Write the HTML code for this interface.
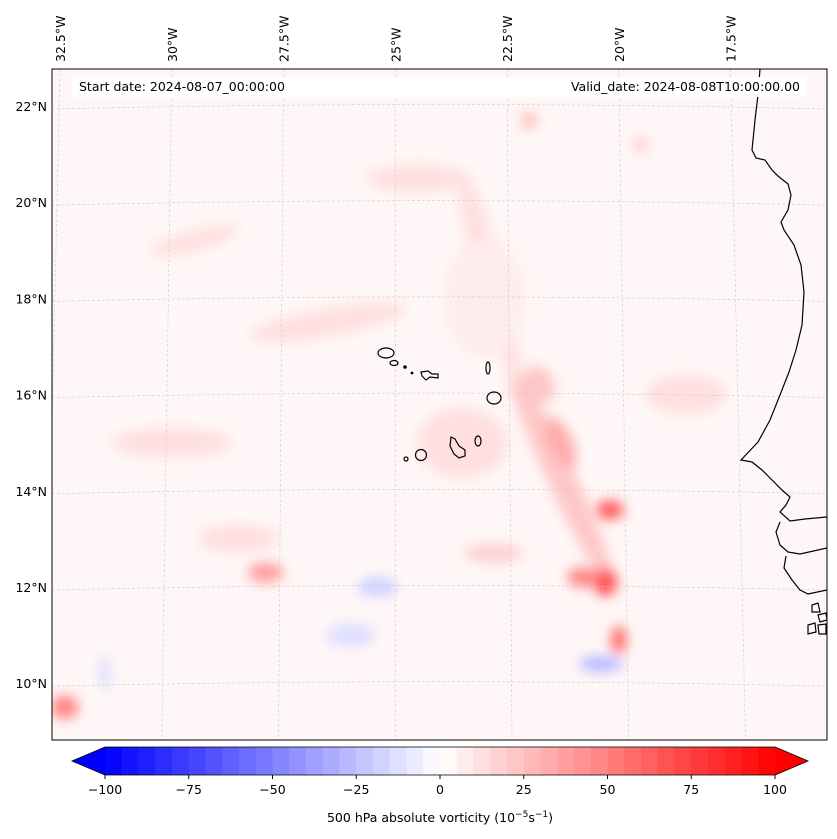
<!DOCTYPE html>
<html><head><meta charset="utf-8">
<style>
body{margin:0;background:#fff;width:837px;height:839px;overflow:hidden;font-family:"DejaVu Sans","Liberation Sans",sans-serif}
svg{position:absolute;left:0;top:0}
</style></head>
<body>
<svg id="fig" width="837" height="839" font-family="DejaVu Sans, Liberation Sans, sans-serif">
<defs>
<clipPath id="mapclip"><rect x="52" y="69" width="775" height="671"/></clipPath>
<filter id="blur" x="-50%" y="-50%" width="200%" height="200%"><feGaussianBlur stdDeviation="6"/></filter>
</defs>
<g id="map" clip-path="url(#mapclip)">
<rect x="52" y="69" width="775" height="671" fill="rgb(255,247,247)"/>
<g id="blobs" filter="url(#blur)"></g>
<g id="grid"></g>
<g id="coast" fill="none" stroke="#000" stroke-width="1.2">
<path d="M760,69 L758,95 L755,120 L752,150 L756,158 L765,160 L772,170 L778,176 L788,184 L791,195 L788,210 L781,222 L784,230 L794,245 L801,265 L804,292 L802,325 L796,350 L789,372 L780,395 L770,420 L758,442 L741,460 L752,462 L762,470 L772,480 L782,490 L790,497 L786,505 L780,512 L790,521 L805,519 L827,517"/>
<path d="M780,522 L776,532 L780,545 L788,552 L800,554 L827,548 M786,556 L784,568 L792,580 L800,590 L808,594 L827,590"/>
<path d="M812,605 L818,603 L820,612 L812,612 Z M818,615 L826,613 L827,620 L820,622 Z M808,625 L815,623 L816,632 L808,634 Z M818,625 L826,624 L826,634 L819,634 Z"/>
<ellipse cx="386" cy="353" rx="8" ry="5"/>
<ellipse cx="394" cy="363" rx="4" ry="2.5"/>
<circle cx="405" cy="367" r="1.2" fill="#000"/>
<circle cx="412" cy="373" r="0.8" fill="#000"/>
<path d="M421,372 L428,371 L432,374 L438,374 L438,378 L430,377 L426,380 L422,376 Z"/>
<ellipse cx="488" cy="368" rx="2" ry="6"/>
<ellipse cx="494" cy="398" rx="7" ry="6"/>
<path d="M451,437 L455,439 L459,446 L465,450 L465,456 L459,458 L454,454 L450,446 Z"/>
<ellipse cx="478" cy="441" rx="3" ry="5"/>
<circle cx="421" cy="455" r="5.5"/>
<circle cx="406" cy="459" r="2"/>
</g>
</g>
<rect x="52" y="69" width="775" height="671" fill="none" stroke="#000" stroke-width="1"/>
<rect x="72" y="77" width="735" height="20" fill="#fff"/>
<text x="79" y="91" font-size="12.5">Start date: 2024-08-07_00:00:00</text>
<text x="800" y="91" font-size="12.5" text-anchor="end">Valid_date: 2024-08-08T10:00:00.00</text>
<g id="lonlabels" font-size="12.5"></g>
<g id="latlabels" font-size="12.5"></g>
<g id="cbar"></g>
<text x="440" y="822" font-size="12.5" text-anchor="middle">500 hPa absolute vorticity (10<tspan baseline-shift="super" font-size="9">−5</tspan>s<tspan baseline-shift="super" font-size="9">−1</tspan>)</text>
</svg>
<script>
// ---- data ----
const lonTicks = [-32.5, -30, -27.5, -25, -22.5, -20, -17.5];
const lonTickLabels = ["32.5°W","30°W","27.5°W","25°W","22.5°W","20°W","17.5°W"];
const latTicks = [22, 20, 18, 16, 14, 12, 10];
const latTickLabels = ["22°N","20°N","18°N","16°N","14°N","12°N","10°N"];
const cbarTicks = [-100, -75, -50, -25, 0, 25, 50, 75, 100];
const cbarLevelStep = 5;
// vorticity features: lon, lat, value
const featLon = [-21.3, -22.9, -32.4, -27.9, -20.2, -20.3, -20.8, -20.0, -21.3, -21.8, -20.4, -25.4, -22.0, -19.5, -28.5, -23.5, -23.0, -26.0, -30.0, -24.5, -18.5, -31.5, -26.5, -22.8, -29.5];
const featLat = [14.3, 18.5, 9.5, 12.3, 13.6, 12.1, 12.2, 10.9, 15.0, 16.2, 10.4, 12.0, 21.7, 21.2, 13.0, 15.0, 18.0, 11.0, 15.0, 20.5, 16.0, 10.2, 17.5, 12.7, 19.2];
const featVal = [22, 10, 45, 35, 60, 68, 45, 55, 30, 22, -30, -20, 25, 20, 14, 12, 8, -12, 12, 10, 10, -15, 10, 15, 10];
// style (not data): radii and rotation for each feature
const featRx = [14, 14, 14, 18, 14, 12, 16, 8, 12, 16, 22, 20, 8, 7, 40, 45, 40, 25, 60, 50, 40, 6, 80, 30, 45];
const featRy = [120, 110, 12, 10, 10, 14, 10, 14, 28, 20, 8, 10, 8, 7, 14, 35, 60, 12, 15, 14, 20, 18, 14, 10, 10];
const featRot = [-25, -15, 0, 0, 0, 0, 0, 0, -25, -25, 0, 0, 0, 0, 0, 0, 0, 0, 0, 0, 0, 0, -10, 0, -15];

// ---- axes ----
const X = lon => 60 + (lon + 32.5) * 44.7;
const Y = lat => 106 + (22 - lat) * 48.1;
const NS = "http://www.w3.org/2000/svg";
function bwr(t){
  let r,g,b;
  if(t<0.5){ r=g=Math.round(255*t*2); b=255; } else { r=255; g=b=Math.round(255*(1-t)*2); }
  return `rgb(${r},${g},${b})`;
}
function colorFor(v){
  const lv = Math.max(-100, Math.min(100, v));
  const bin = Math.floor((lv + 100) / cbarLevelStep);
  const mid = (bin + 0.5) / 40;
  return bwr(Math.min(1, Math.max(0, mid)));
}
const blobs = document.getElementById('blobs');
featLon.forEach((lon,i)=>{
  const e = document.createElementNS(NS,'ellipse');
  const cx = X(lon), cy = Y(featLat[i]);
  e.setAttribute('cx', cx); e.setAttribute('cy', cy);
  e.setAttribute('rx', featRx[i]); e.setAttribute('ry', featRy[i]);
  e.setAttribute('transform', `rotate(${featRot[i]} ${cx} ${cy})`);
  e.setAttribute('fill', colorFor(featVal[i]));
  
  
  blobs.appendChild(e);
});
const grid = document.getElementById('grid');
lonTicks.forEach((lon,i)=>{
  const l = document.createElementNS(NS,'line');
  const x = X(lon);
  l.setAttribute('x1', x); l.setAttribute('y1', 69);
  l.setAttribute('x2', x + (lon + 25) * 2); l.setAttribute('y2', 740);
  l.setAttribute('stroke', '#cccccc'); l.setAttribute('stroke-width', 0.6); l.setAttribute('stroke-dasharray', '3,2');
  
  
  grid.appendChild(l);
  const t = document.createElementNS(NS,'text');
  t.setAttribute('transform', `translate(${x+5},62) rotate(-90)`);
  t.textContent = lonTickLabels[i];
  
  
  document.getElementById('lonlabels').appendChild(t);
});
latTicks.forEach((lat,i)=>{
  const y = Y(lat);
  const p = document.createElementNS(NS,'path');
  p.setAttribute('d', `M52,${y+3} Q440,${y-6} 827,${y+3}`);
  p.setAttribute('fill','none');
  p.setAttribute('stroke', '#cccccc'); p.setAttribute('stroke-width', 0.6); p.setAttribute('stroke-dasharray', '3,2');
  
  
  grid.appendChild(p);
  const t = document.createElementNS(NS,'text');
  t.setAttribute('x', 47); t.setAttribute('y', y+5); t.setAttribute('text-anchor','end');
  t.textContent = latTickLabels[i];
  
  
  document.getElementById('latlabels').appendChild(t);
});
// ---- colorbar ----
const cb = document.getElementById('cbar');
const CX = v => 105 + (v + 100) / 200 * 670;
const cTop = 747, cBot = 775;
for(let v=-100; v<100; v+=cbarLevelStep){
  const r = document.createElementNS(NS,'rect');
  r.setAttribute('x', CX(v)); r.setAttribute('y', cTop);
  r.setAttribute('width', CX(v+cbarLevelStep)-CX(v)+0.5); r.setAttribute('height', cBot-cTop);
  r.setAttribute('fill', colorFor(v + cbarLevelStep/2));
  
  
  cb.appendChild(r);
}
const la = document.createElementNS(NS,'polygon');
la.setAttribute('points', `${CX(-100)},${cTop} 72,${(cTop+cBot)/2} ${CX(-100)},${cBot}`);
la.setAttribute('fill', 'rgb(0,0,255)');


cb.appendChild(la);
const ra = document.createElementNS(NS,'polygon');
ra.setAttribute('points', `${CX(100)},${cTop} 808,${(cTop+cBot)/2} ${CX(100)},${cBot}`);
ra.setAttribute('fill', 'rgb(255,0,0)');


cb.appendChild(ra);
const outline = document.createElementNS(NS,'polygon');
outline.setAttribute('points', `72,${(cTop+cBot)/2} ${CX(-100)},${cTop} ${CX(100)},${cTop} 808,${(cTop+cBot)/2} ${CX(100)},${cBot} ${CX(-100)},${cBot}`);
outline.setAttribute('fill','none'); outline.setAttribute('stroke','#000'); outline.setAttribute('stroke-width',0.8);


cb.appendChild(outline);
cbarTicks.forEach(v=>{
  const l = document.createElementNS(NS,'line');
  l.setAttribute('x1', CX(v)); l.setAttribute('x2', CX(v));
  l.setAttribute('y1', cBot); l.setAttribute('y2', cBot+4); l.setAttribute('stroke','#000');
  
  
  cb.appendChild(l);
  const t = document.createElementNS(NS,'text');
  t.setAttribute('x', CX(v)); t.setAttribute('y', 794); t.setAttribute('text-anchor','middle'); t.setAttribute('font-size','12.5');
  t.textContent = v < 0 ? '−' + Math.abs(v) : String(v);
  
  
  cb.appendChild(t);
});
</script>
</body></html>
